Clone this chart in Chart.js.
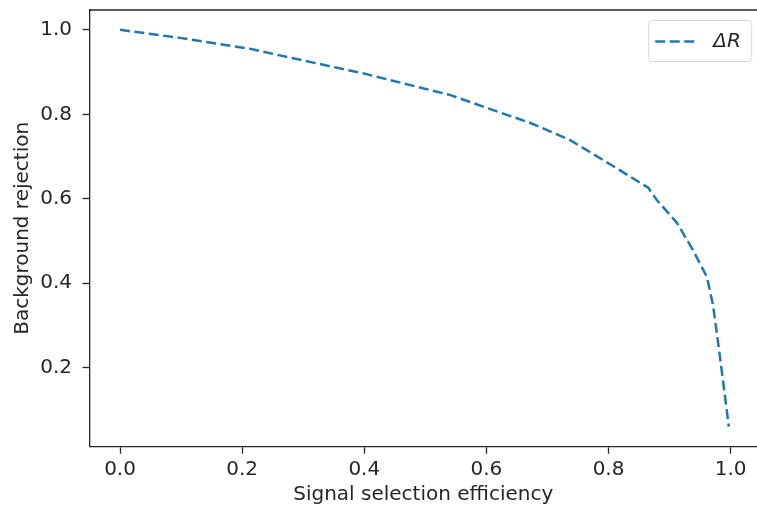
<!DOCTYPE html>
<html>
<head>
<meta charset="utf-8">
<script src="https://cdn.jsdelivr.net/npm/chart.js@4"></script>
<style>
  body { margin: 0; background: #fff; }
  canvas { display: block; }
</style>
</head>
<body>
<canvas id="c" width="757" height="510"></canvas>
<script>
// ROC style curve
var effX = [0.0, 0.098, 0.213, 0.295, 0.401, 0.540, 0.601, 0.671, 0.737, 0.801, 0.865, 0.879, 0.912, 0.938, 0.961, 0.971, 0.981, 0.997];
var rejY = [1.0, 0.981, 0.955, 0.929, 0.896, 0.846, 0.815, 0.780, 0.739, 0.683, 0.626, 0.597, 0.543, 0.479, 0.415, 0.349, 0.242, 0.06];
var xTicks = [0.0, 0.2, 0.4, 0.6, 0.8, 1.0];
var yTicks = [0.2, 0.4, 0.6, 0.8, 1.0];
var seriesLabel = 'ΔR';

var ink = '#262626';
var fontFam = "'DejaVu Sans', sans-serif";
var fs = 20;

var points = effX.map(function(x, i) { return {x: x, y: rejY[i]}; });

// top spine + matplotlib style legend box
// (the figure is cropped on the right, the real axes edge sits at x=1.05)
var frame = {
    id: 'frame',
    afterDraw: function(chart) {
        var ctx = chart.ctx;
        var a = chart.chartArea;
        ctx.save();
        ctx.strokeStyle = ink;
        ctx.lineWidth = 1.3;
        ctx.beginPath();
        ctx.moveTo(a.left, a.top);
        ctx.lineTo(a.right, a.top);
        ctx.stroke();

        var ds = chart.data.datasets[0];
        var edge = chart.scales.x.getPixelForValue(1.05);
        var w = 103, h = 41;
        var bx = edge - 10 - w, by = a.top + 10;
        ctx.beginPath();
        ctx.roundRect(bx + 0.5, by + 0.5, w, h, 4);
        ctx.fillStyle = 'rgba(255,255,255,0.8)';
        ctx.fill();
        ctx.strokeStyle = '#d6d6d6';
        ctx.lineWidth = 1;
        ctx.stroke();

        var ly = by + h / 2 + 1;
        ctx.beginPath();
        ctx.setLineDash(ds.borderDash);
        ctx.strokeStyle = ds.borderColor;
        ctx.lineWidth = ds.borderWidth;
        ctx.moveTo(bx + 7, ly);
        ctx.lineTo(bx + 47, ly);
        ctx.stroke();
        ctx.setLineDash([]);

        ctx.fillStyle = ink;
        ctx.font = 'italic ' + fs + 'px ' + fontFam;
        ctx.textBaseline = 'middle';
        ctx.textAlign = 'left';
        ctx.fillText(ds.label, bx + 65, ly);
        ctx.restore();
    }
};

new Chart(document.getElementById('c'), {
    type: 'line',
    data: {
        datasets: [{
            label: seriesLabel,
            data: points,
            borderColor: '#1f77b4',
            borderWidth: 2.5,
            borderDash: [10, 4.5],
            pointRadius: 0,
            fill: false,
            tension: 0
        }]
    },
    options: {
        responsive: false,
        animation: false,
        layout: { padding: { top: 10, right: 0, bottom: 0, left: 0 } },
        plugins: { legend: { display: false }, tooltip: { enabled: false } },
        scales: {
            x: {
                type: 'linear',
                min: -0.05,
                max: 1.0431,
                afterBuildTicks: function(s) { s.ticks = xTicks.map(function(v) { return {value: v}; }); },
                afterFit: function(s) { s.height = 63.3; s.paddingLeft = 0; s.paddingRight = 0; },
                grid: { drawOnChartArea: false, tickLength: 7, color: ink, tickWidth: 1.3 },
                border: { color: ink, width: 1.3 },
                ticks: {
                    color: ink, padding: 4, maxRotation: 0,
                    font: { family: fontFam, size: fs },
                    callback: function(v) { return v.toFixed(1); }
                },
                title: {
                    display: true, text: 'Signal selection efficiency', color: ink,
                    font: { family: fontFam, size: fs },
                    padding: { top: 0, bottom: 3 }
                }
            },
            y: {
                type: 'linear',
                min: 0.0128,
                max: 1.047,
                afterBuildTicks: function(s) { s.ticks = yTicks.map(function(v) { return {value: v}; }); },
                afterFit: function(s) { s.width = 89.5; s.paddingTop = 0; s.paddingBottom = 0; },
                grid: { drawOnChartArea: false, tickLength: 7, color: ink, tickWidth: 1.3 },
                border: { color: ink, width: 1.3 },
                ticks: {
                    color: ink, padding: 10.5,
                    font: { family: fontFam, size: fs },
                    callback: function(v) { return v.toFixed(1); }
                },
                title: {
                    display: true, text: 'Background rejection', color: ink,
                    font: { family: fontFam, size: fs },
                    padding: { top: 11, bottom: 0 }
                }
            }
        }
    },
    plugins: [frame]
});
</script>
</body>
</html>
